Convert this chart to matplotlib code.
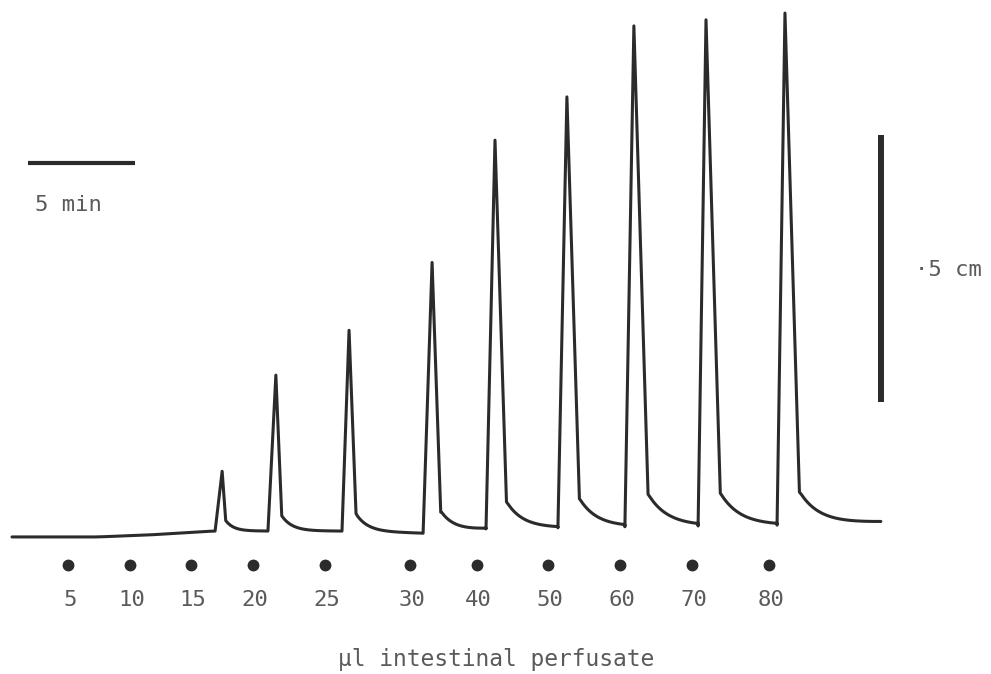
import numpy as np
import matplotlib
matplotlib.use("Agg")
import matplotlib.pyplot as plt

# Doses of intestinal perfusate (ul) and the time each was applied (min)
dose_labels = ["5", "10", "15", "20", "25", "30", "40", "50", "60", "70", "80"]
dose_times = [2.62, 5.51, 8.36, 11.26, 14.63, 18.60, 21.73, 25.05, 28.41, 31.78, 35.37]

# Recorded responses: onset time (min) and pen deflection above baseline (cm)
onset_times = [9.49, 11.96, 15.42, 19.21, 22.15, 25.51, 28.64, 32.06, 35.75]
peak_heights = [0.112, 0.292, 0.376, 0.507, 0.728, 0.807, 0.938, 0.948, 0.959]
rise_times = [0.33, 0.37, 0.33, 0.42, 0.42, 0.42, 0.42, 0.37, 0.37]

# Slow baseline drift of the recorder (min, cm)
drift_t = [0.0, 4.0, 6.5, 9.4, 15.4, 19.2, 22.1, 28.6, 35.7, 40.6]
drift_cm = [-0.013, -0.013, -0.009, -0.002, -0.002, -0.006, 0.002, 0.006, 0.009, 0.015]


def baseline(t):
    return np.interp(t, drift_t, drift_cm)


# Build the pen trace: baseline, sharp rise, fast fall, exponential tail
t_end = 40.6
xs = list(np.linspace(0, onset_times[0], 40))
ys = list(baseline(np.array(xs)))
for i, (t0, h, tr) in enumerate(zip(onset_times, peak_heights, rise_times)):
    b = baseline(t0)
    t_top = t0 + tr
    t_knee = t_top + 0.1 + 0.6 * h
    k = 0.014 + 0.05 * h
    xs += [t0, t_top, t_knee]
    ys += [b, b + h, b + k]
    t_next = onset_times[i + 1] if i + 1 < len(onset_times) else t_end
    tail = np.linspace(t_knee, t_next, 40)[1:]
    tau = 0.3 + 0.65 * h
    ys += list(baseline(tail) + k * np.exp(-(tail - t_knee) / tau))
    xs += list(tail)

fig = plt.figure(figsize=(9.91, 6.74), dpi=100)
ax = fig.add_axes([0, 0, 1, 1])
ax.set_xlim(-12 / 21.4, (991 - 12) / 21.4)
ax.set_ylim(-144 / 534, 530 / 534)
ax.axis("off")

ink = "#2b2b2b"
txt = "#5a5a5a"
font = "DejaVu Sans Mono"

ax.plot(xs, ys, color=ink, lw=2.2, solid_joinstyle="round", solid_capstyle="round")

# Dose markers and labels
ax.plot(dose_times, [-0.066] * len(dose_times), "o", color=ink, ms=7.5)
for t, lab in zip(dose_times, dose_labels):
    ax.text(t + 0.08, -0.131, lab, ha="center", va="center",
            fontsize=16, family=font, color=txt, fontweight="light")

ax.text(22.6, -0.243, "\u00b5l intestinal perfusate", ha="center", va="center",
        fontsize=16.5, family=font, color=txt, fontweight="light")

# Time and deflection scale bars
ax.plot([0.75, 5.75], [0.687, 0.687], color=ink, lw=3, solid_capstyle="butt")
ax.text(1.07, 0.609, "5 min", ha="left", va="center",
        fontsize=16, family=font, color=txt, fontweight="light")

ax.plot([40.61, 40.61], [0.240, 0.740], color=ink, lw=4.3, solid_capstyle="butt")
ax.text(42.2, 0.487, "\u00b75 cm", ha="left", va="center",
        fontsize=16, family=font, color=txt, fontweight="light")

fig.savefig("out.png", dpi=100, facecolor="white")
